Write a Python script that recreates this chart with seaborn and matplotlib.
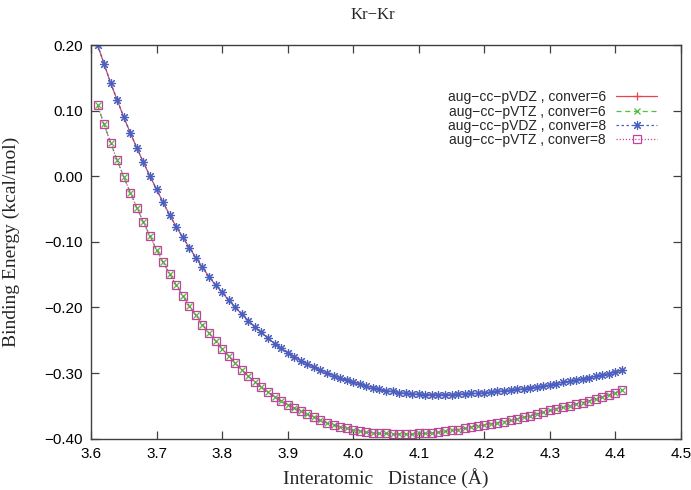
import numpy as np
import pandas as pd
import matplotlib
matplotlib.use("Agg")
import matplotlib.pyplot as plt
import seaborn as sns

# Interatomic distance grid (Angstrom)
distance = [round(3.61 + 0.01 * i, 2) for i in range(81)]

# Binding energies (kcal/mol), aug-cc-pVDZ
vdz_conver6 = [
    0.200, 0.171, 0.142, 0.116, 0.090, 0.066, 0.043, 0.021, 0.000, -0.020,
    -0.040, -0.059, -0.077, -0.093, -0.109, -0.124, -0.139, -0.153, -0.166, -0.177,
    -0.189, -0.200, -0.210, -0.220, -0.230, -0.238, -0.247, -0.255, -0.262, -0.269,
    -0.275, -0.281, -0.286, -0.291, -0.296, -0.300, -0.304, -0.308, -0.311, -0.314,
    -0.317, -0.320, -0.322, -0.325, -0.327, -0.328, -0.330, -0.331, -0.332, -0.332,
    -0.333, -0.333, -0.333, -0.333, -0.333, -0.332, -0.332, -0.331, -0.331, -0.330,
    -0.329, -0.328, -0.327, -0.326, -0.325, -0.324, -0.322, -0.321, -0.320, -0.318,
    -0.316, -0.314, -0.3125, -0.3105, -0.3085, -0.307, -0.305, -0.303, -0.301, -0.298,
    -0.296,
]

# Binding energies (kcal/mol), aug-cc-pVTZ
vtz_conver6 = [
    0.108, 0.079, 0.051, 0.024, -0.001, -0.025, -0.048, -0.070, -0.091, -0.112,
    -0.131, -0.149, -0.166, -0.182, -0.198, -0.212, -0.226, -0.239, -0.251, -0.263,
    -0.274, -0.285, -0.295, -0.305, -0.313, -0.321, -0.329, -0.336, -0.342, -0.348,
    -0.353, -0.358, -0.363, -0.367, -0.372, -0.376, -0.379, -0.382, -0.384, -0.387,
    -0.388, -0.390, -0.391, -0.392, -0.392, -0.393, -0.393, -0.393, -0.393, -0.392,
    -0.392, -0.391, -0.390, -0.389, -0.387, -0.386, -0.384, -0.382, -0.380, -0.379,
    -0.377, -0.376, -0.374, -0.372, -0.370, -0.367, -0.365, -0.362, -0.360, -0.357,
    -0.354, -0.352, -0.350, -0.347, -0.345, -0.342, -0.339, -0.336, -0.333, -0.330,
    -0.326,
]

# Tighter convergence gives the same energies to plotting precision
vdz_conver8 = list(vdz_conver6)
vtz_conver8 = list(vtz_conver6)

labels = [
    "aug\u2212cc\u2212pVDZ , conver=6",
    "aug\u2212cc\u2212pVTZ , conver=6",
    "aug\u2212cc\u2212pVDZ , conver=8",
    "aug\u2212cc\u2212pVTZ , conver=8",
]
x_ticks = [3.6, 3.7, 3.8, 3.9, 4.0, 4.1, 4.2, 4.3, 4.4, 4.5]
y_ticks = [-0.40, -0.30, -0.20, -0.10, 0.00, 0.10, 0.20]

sns.set_style("ticks")
plt.rcParams.update({
    "font.family": ["Liberation Sans", "DejaVu Sans"],
    "xtick.direction": "in",
    "ytick.direction": "in",
    "xtick.top": True,
    "ytick.right": True,
    "xtick.major.size": 6,
    "ytick.major.size": 6,
    "xtick.major.width": 0.9,
    "ytick.major.width": 0.9,
    "xtick.major.pad": 6,
    "ytick.major.pad": 6,
    "axes.linewidth": 1.0,
    "axes.edgecolor": "#404040",
    "xtick.color": "#404040",
    "ytick.color": "#404040",
    "xtick.labelcolor": "black",
    "ytick.labelcolor": "black",
})

frames = []
for lab, vals in zip(labels, [vdz_conver6, vtz_conver6, vdz_conver8, vtz_conver8]):
    frames.append(pd.DataFrame({"distance": distance, "energy": vals, "series": lab}))
df = pd.concat(frames, ignore_index=True)

fig = plt.figure(figsize=(6.91, 4.90), dpi=100)
ax = fig.add_axes([91 / 691, 51.3 / 490, 590 / 691, 393.7 / 490])

red, green, blue, magenta = "#e8424c", "#4fbf3a", "#4660c4", "#c0449e"
styles = {
    labels[0]: dict(color=red, linestyle="-", marker="+", markersize=6,
                    markeredgecolor=red, markeredgewidth=0.9, linewidth=0.9),
    labels[1]: dict(color=green, linestyle=(0, (4, 3)), marker="x", markersize=4.5,
                    markeredgecolor=green, markeredgewidth=0.9, linewidth=0.9),
    labels[2]: dict(color=blue, linestyle=(0, (2, 2)), marker=(8, 2, 0), markersize=6.5,
                    markeredgecolor=blue, markeredgewidth=0.8, linewidth=0.9),
    labels[3]: dict(color=magenta, linestyle=(0, (1, 1.5)), marker="s", markersize=5.5,
                    markerfacecolor="none", markeredgecolor=magenta,
                    markeredgewidth=0.9, linewidth=0.9),
}

for lab in labels:
    sub = df[df["series"] == lab]
    sns.lineplot(data=sub, x="distance", y="energy", ax=ax, label=lab,
                 estimator=None, sort=False, **styles[lab])

ax.set_xlim(3.6, 4.5)
ax.set_ylim(-0.40, 0.20)
ax.set_xticks(x_ticks)
ax.set_yticks(y_ticks)
ax.set_xticklabels([f"{v:.1f}" for v in x_ticks], fontsize=11)
ax.set_yticklabels([f"{v:.2f}".replace("-", "\u2212") for v in y_ticks], fontsize=11)

serif = ["Liberation Serif", "DejaVu Serif"]
ax.set_xlabel("Interatomic   Distance (\u00c5)", family=serif, fontsize=14)
ax.set_ylabel("Binding Energy (kcal/mol)", family=serif, fontsize=14)
ax.xaxis.set_label_coords(0.5, -0.075)
ax.yaxis.set_label_coords(-0.12, 0.5)

fig.text(373 / 691, 1 - 15 / 490, "Kr\u2212Kr", family=serif, fontsize=12,
         ha="center", va="center")

leg = ax.legend(loc="upper right", bbox_to_anchor=(0.96, 0.885), frameon=False,
                markerfirst=False, fontsize=10, handlelength=3.0, handletextpad=0.7,
                labelspacing=0.02, borderpad=0, borderaxespad=0)

fig.savefig("out.png", dpi=100)
